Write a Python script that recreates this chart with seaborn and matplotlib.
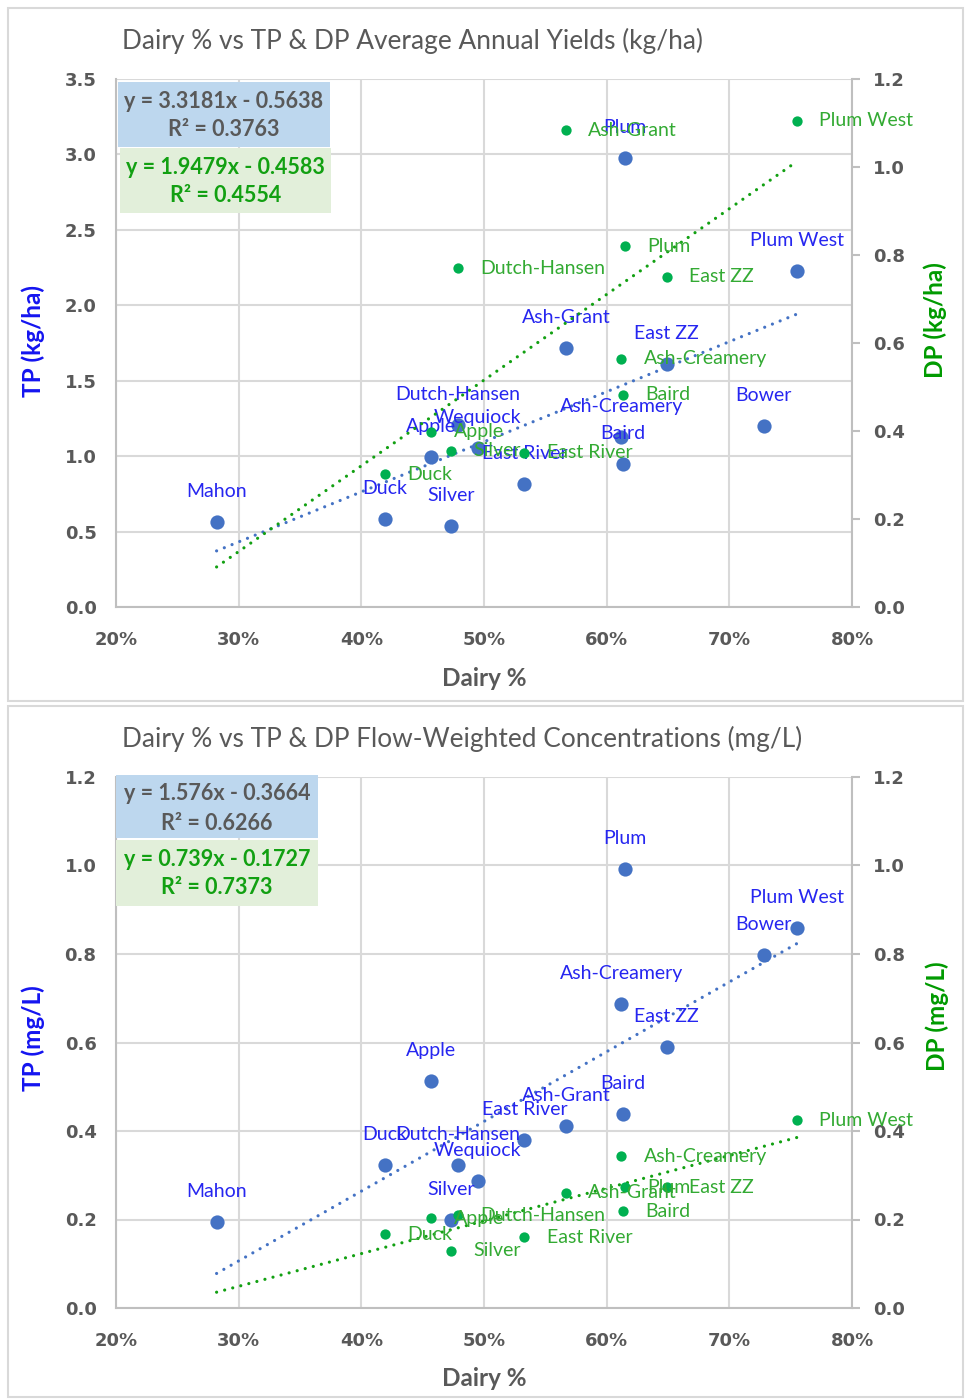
import numpy as np
import pandas as pd
import matplotlib
matplotlib.use("Agg")
import matplotlib.pyplot as plt
import matplotlib.ticker as ticker
from matplotlib.patches import Rectangle
import seaborn as sns

W, H = 965, 1399

# watershed data
sites = ["Mahon", "Duck", "Apple", "Silver", "Dutch-Hansen", "Wequiock", "East River",
         "Ash-Grant", "Ash-Creamery", "Baird", "Plum", "East ZZ", "Bower", "Plum West"]
dairy_pct = [28.2, 41.9, 45.7, 47.3, 47.9, 49.5, 53.3, 56.7, 61.2, 61.3, 61.5, 64.9, 72.8, 75.5]

tp_yield = [0.563, 0.583, 0.994, 0.537, 1.206, 1.054, 0.815, 1.716, 1.127, 0.948, 2.975, 1.61, 1.20, 2.227]
dp_yield = [None, 0.302, 0.398, 0.355, 0.770, None, 0.350, 1.084, 0.564, 0.482, 0.820, 0.750, None, 1.105]

tp_conc = [0.194, 0.323, 0.512, 0.199, 0.323, 0.287, 0.379, 0.411, 0.686, 0.438, 0.991, 0.589, 0.797, 0.858]
dp_conc = [None, 0.167, 0.203, 0.129, 0.210, None, 0.160, 0.260, 0.343, 0.219, 0.273, 0.273, None, 0.424]

# Excel trendline equations as printed on the charts: slope, intercept, R2
tp_yield_fit = (3.3181, -0.5638, "0.3763")
dp_yield_fit = (1.9479, -0.4583, "0.4554")
tp_conc_fit = (1.576, -0.3664, "0.6266")
dp_conc_fit = (0.739, -0.1727, "0.7373")

BLUE = "#4472C4"
GREEN = "#00B050"
BLUE_TXT = "#2626F0"
GREEN_TXT = "#33AA33"
GREEN_DARK = "#12A012"
GRAY = "#595959"
GRID = "#D9D9D9"
SPINE = "#BFBFBF"

sns.set_style("white")
plt.rcParams["font.family"] = ["Lato", "DejaVu Sans"]


def fx(px):
    return px / W


def fy(py):
    return 1 - py / H


def fmt_eq(m, b):
    sign = "-" if b < 0 else "+"
    return f"y = {m:g}x {sign} {abs(b):.4f}"


def draw_panel(fig, box, y_top, y_bot, ymax_left, ystep_left, title, title_x, title_y,
               tp, dp, tp_fit, dp_fit, lbl, eq_boxes):
    # outer chart border
    fig.patches.append(Rectangle((fx(box[0]), fy(box[3])), fx(box[2] - box[0]),
                                 (box[3] - box[1]) / H, transform=fig.transFigure,
                                 fill=False, edgecolor=GRID, linewidth=1.5))

    ax = fig.add_axes([fx(116), fy(y_bot), fx(852 - 116), (y_bot - y_top) / H])
    ax2 = ax.twinx()

    df = pd.DataFrame({"site": sites, "dairy": np.array(dairy_pct) / 100,
                       "tp": tp, "dp": pd.to_numeric(pd.Series(dp), errors="coerce")})
    dfg = df.dropna(subset=["dp"])

    # trendlines over the x range of the data
    xr = np.array([df["dairy"].min(), df["dairy"].max()])
    sns.lineplot(x=xr, y=tp_fit[0] * xr + tp_fit[1], ax=ax, color=BLUE, zorder=2)
    sns.lineplot(x=xr, y=dp_fit[0] * xr + dp_fit[1], ax=ax2, color=GREEN_DARK, zorder=2)
    for a in (ax, ax2):
        ln = a.lines[-1]
        ln.set_linestyle((0, (0.01, 2.6)))
        ln.set_linewidth(2.3)
        ln.set_dash_capstyle("round")

    sns.scatterplot(data=df, x="dairy", y="tp", ax=ax, color=BLUE, s=105,
                    linewidth=0, zorder=3)
    sns.scatterplot(data=dfg, x="dairy", y="dp", ax=ax2, color=GREEN, s=55,
                    linewidth=0, zorder=3)

    for _, r in df.iterrows():
        ax.annotate(r["site"], (r["dairy"], r["tp"]), xytext=(0, 22),
                    textcoords="offset points", ha="center", va="center",
                    fontsize=lbl, color=BLUE_TXT, zorder=4)
    for _, r in dfg.iterrows():
        ax2.annotate(r["site"], (r["dairy"], r["dp"]), xytext=(16, 0),
                     textcoords="offset points", ha="left", va="center",
                     fontsize=lbl, color=GREEN_TXT, zorder=4)

    ax.set_xlim(0.2, 0.8)
    ax.set_ylim(0, ymax_left)
    ax2.set_ylim(0, 1.2)
    ax.xaxis.set_major_locator(ticker.MultipleLocator(0.1))
    ax.xaxis.set_major_formatter(ticker.PercentFormatter(xmax=1, decimals=0))
    ax.yaxis.set_major_locator(ticker.MultipleLocator(ystep_left))
    ax.yaxis.set_major_formatter(ticker.FormatStrFormatter("%.1f"))
    ax2.yaxis.set_major_locator(ticker.MultipleLocator(0.2))
    ax2.yaxis.set_major_formatter(ticker.FormatStrFormatter("%.1f"))

    ax.grid(True, color=GRID, linewidth=1.5)
    ax.set_axisbelow(True)
    ax2.grid(False)
    for a in (ax, ax2):
        a.set_xlabel("")
        a.set_ylabel("")
        for s in a.spines.values():
            s.set_visible(False)
    ax.spines["left"].set_visible(True)
    ax.spines["bottom"].set_visible(True)
    ax2.spines["right"].set_visible(True)
    for s in (ax.spines["left"], ax.spines["bottom"], ax2.spines["right"]):
        s.set_color(SPINE)
        s.set_linewidth(1.5)

    tick_font = {"family": "DejaVu Sans", "weight": "bold", "size": 13}
    ax.tick_params(axis="y", length=0, pad=14, labelcolor=GRAY)
    ax.tick_params(axis="x", length=0, pad=17, labelcolor=GRAY)
    ax2.tick_params(axis="y", direction="out", length=6, width=1.5, color=SPINE,
                    pad=9, labelcolor=GRAY)
    for t in ax.get_xticklabels() + ax.get_yticklabels() + ax2.get_yticklabels():
        t.set_fontproperties(tick_font)

    fig.text(fx(title_x), fy(title_y), title, ha="center", va="center",
             fontsize=18.9, color=GRAY)

    # trendline equation boxes
    for (x0, y0, x1, y1, bg, col, m, b, r2) in eq_boxes:
        fig.patches.append(Rectangle((fx(x0), fy(y1)), fx(x1 - x0), (y1 - y0) / H,
                                     transform=fig.transFigure, facecolor=bg,
                                     edgecolor="none", zorder=5))
        cx = (x0 + x1) / 2
        fig.text(fx(cx), fy(y0 + 19), fmt_eq(m, b), ha="center", va="center",
                 fontsize=15.5, fontweight="bold", color=col, zorder=6)
        fig.text(fx(cx), fy(y0 + 48), f"R² = {r2}", ha="center", va="center",
                 fontsize=15.5, fontweight="bold", color=col, zorder=6)
    return ax, ax2


fig = plt.figure(figsize=(W / 100, H / 100), dpi=100)

draw_panel(fig, (8, 8, 963, 701), 79, 607, 3.5, 0.5,
           "Dairy % vs TP & DP Average Annual Yields (kg/ha)", 412, 41,
           tp_yield, dp_yield, tp_yield_fit, dp_yield_fit, 14,
           [(118, 82, 330, 147, "#BDD7EE", GRAY, *tp_yield_fit),
            (120, 148, 331, 213, "#E2EFDA", GREEN_DARK, *dp_yield_fit)])
fig.text(fx(33), fy(341), "TP (kg/ha)", rotation=90, ha="center", va="center",
         fontsize=17.5, fontweight="bold", color="#1414F0")
fig.text(fx(935), fy(320), "DP (kg/ha)", rotation=90, ha="center", va="center",
         fontsize=17.5, fontweight="bold", color="#009A00")
fig.text(fx(484), fy(678), "Dairy %", ha="center", va="center",
         fontsize=17.5, fontweight="bold", color=GRAY)

draw_panel(fig, (8, 706, 963, 1397), 777, 1308, 1.2, 0.2,
           "Dairy % vs TP & DP Flow-Weighted Concentrations (mg/L)", 462, 739,
           tp_conc, dp_conc, tp_conc_fit, dp_conc_fit, 14,
           [(116, 775, 318, 838, "#BDD7EE", GRAY, *tp_conc_fit),
            (116, 840, 318, 906, "#E2EFDA", GREEN_DARK, *dp_conc_fit)])
fig.text(fx(33), fy(1038), "TP (mg/L)", rotation=90, ha="center", va="center",
         fontsize=17.5, fontweight="bold", color="#1414F0")
fig.text(fx(937), fy(1016), "DP (mg/L)", rotation=90, ha="center", va="center",
         fontsize=17.5, fontweight="bold", color="#009A00")
fig.text(fx(484), fy(1378), "Dairy %", ha="center", va="center",
         fontsize=17.5, fontweight="bold", color=GRAY)

fig.savefig("out.png", dpi=100, facecolor="white")
